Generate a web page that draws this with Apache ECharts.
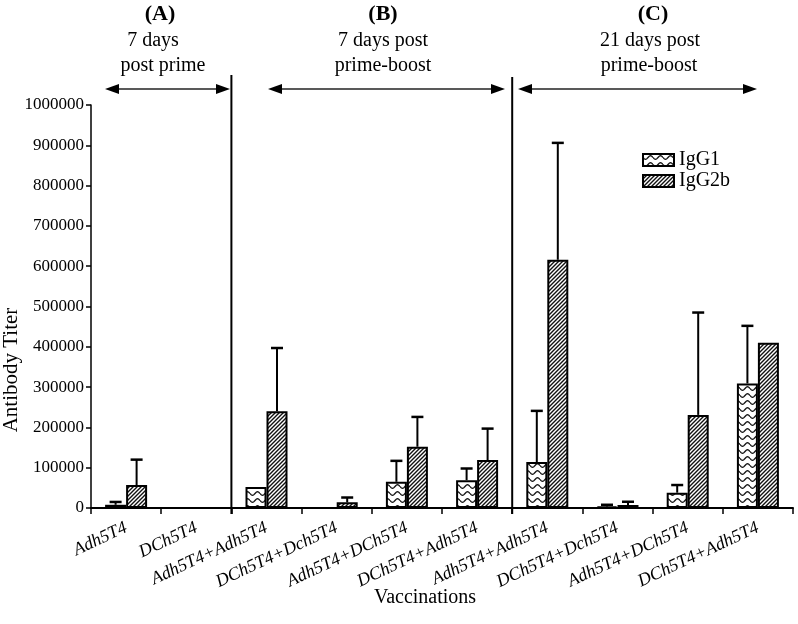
<!DOCTYPE html>
<html><head><meta charset="utf-8">
<script src="https://cdn.jsdelivr.net/npm/echarts@6/dist/echarts.min.js"></script>
<style>html,body{margin:0;padding:0;background:#fff}#c{width:798px;height:624px}</style>
</head><body><div id="c"></div>
<script>
// ---- data ----
const categories = ['Adh5T4','DCh5T4','Adh5T4+Adh5T4','DCh5T4+Dch5T4','Adh5T4+DCh5T4','DCh5T4+Adh5T4','Adh5T4+Adh5T4','DCh5T4+Dch5T4','Adh5T4+DCh5T4','DCh5T4+Adh5T4'];
const igg1 = [8000, 0, 52000, 0, 65000, 69000, 114000, 4000, 38000, 309000];
const igg1ErrTop = [15000, null, null, null, 117000, 98000, 241000, 8000, 57000, 452000];
const igg2b = [57000, 0, 240000, 14000, 152000, 119000, 616000, 7500, 231000, 410000];
const igg2bErrTop = [120000, null, 397000, 26000, 226000, 197000, 906000, 15500, 485000, null];
const yTicks = [0, 100000, 200000, 300000, 400000, 500000, 600000, 700000, 800000, 900000, 1000000];
const seriesNames = ['IgG1', 'IgG2b'];

// ---- patterns ----
function hatch() {
  const c = document.createElement('canvas'); c.width = 4; c.height = 4;
  const g = c.getContext('2d');
  g.fillStyle = '#fff'; g.fillRect(0,0,4,4);
  g.strokeStyle = '#111'; g.lineWidth = 1.4;
  g.beginPath();
  g.moveTo(-1,5); g.lineTo(5,-1);
  g.moveTo(-1,1); g.lineTo(1,-1);
  g.moveTo(3,5); g.lineTo(5,3);
  g.stroke();
  return c;
}
function wave() {
  const c = document.createElement('canvas'); c.width = 10; c.height = 7;
  const g = c.getContext('2d');
  g.fillStyle = '#fff'; g.fillRect(0,0,10,7);
  g.strokeStyle = '#111'; g.lineWidth = 1.3;
  g.beginPath();
  for (let x = 0; x <= 10; x += 0.5) {
    const y = 3.5 + 1.8 * Math.sin(x / 10 * Math.PI * 2);
    if (x === 0) g.moveTo(x, y); else g.lineTo(x, y);
  }
  g.stroke();
  return c;
}
const fills = [{image: wave(), repeat: 'repeat'}, {image: hatch(), repeat: 'repeat'}];
const FONT = 'Liberation Serif';
const BAR_W = 21;

const chart = echarts.init(document.getElementById('c'), null, {renderer: 'canvas'});

function errSeries(vals, tops, offset) {
  const data = vals.map((v, i) => [i, v, tops[i] == null ? v : tops[i]]);
  return {
    type: 'custom', silent: true, z: 5,
    data: data,
    encode: {x: 0, y: [1, 2]},
    renderItem: function (params, api) {
      const i = api.value(0), v = api.value(1), t = api.value(2);
      if (!(t > v)) return null;
      const p0 = api.coord([i, v]), p1 = api.coord([i, t]);
      const x = p0[0] + offset;
      return {type: 'group', children: [
        {type: 'line', shape: {x1: x, y1: p0[1], x2: x, y2: p1[1]}, style: {stroke: '#000', lineWidth: 2}},
        {type: 'line', shape: {x1: x - 6, y1: p1[1], x2: x + 6, y2: p1[1]}, style: {stroke: '#000', lineWidth: 2.5}}
      ]};
    }
  };
}

const option = {
  animation: false,
  backgroundColor: '#fff',
  grid: {left: 91, right: 5, top: 105, bottom: 116, containLabel: false, outerBoundsMode: 'none'},
  legend: {
    data: seriesNames, orient: 'vertical', left: 637, top: 145,
    itemWidth: 31, itemHeight: 12, itemGap: 1, icon: 'rect',
    textStyle: {fontFamily: FONT, fontSize: 20, lineHeight: 18, color: '#000'}
  },
  xAxis: {
    type: 'category', data: categories,
    axisLine: {lineStyle: {color: '#000', width: 2}},
    axisTick: {show: true, length: 6, lineStyle: {color: '#000', width: 1.5}},
    axisLabel: {rotate: 25, margin: 19, fontFamily: FONT, fontStyle: 'italic', fontSize: 18, color: '#000', interval: 0},
    splitLine: {show: false}
  },
  yAxis: {
    type: 'value', min: yTicks[0], max: yTicks[yTicks.length - 1], interval: yTicks[1] - yTicks[0],
    axisLine: {show: true, lineStyle: {color: '#000', width: 1.5}},
    axisTick: {show: true, length: 5, lineStyle: {color: '#000', width: 1.5}},
    axisLabel: {margin: 7, fontFamily: FONT, fontSize: 17, color: '#000', formatter: v => String(v)},
    splitLine: {show: false}
  },
  series: [
    {name: seriesNames[0], type: 'bar', data: igg1, barWidth: BAR_W, barGap: '0%',
     itemStyle: {color: fills[0], borderColor: '#000', borderWidth: 2}},
    {name: seriesNames[1], type: 'bar', data: igg2b, barWidth: BAR_W, barGap: '0%',
     itemStyle: {color: fills[1], borderColor: '#000', borderWidth: 2}},
    errSeries(igg1, igg1ErrTop, -BAR_W / 2),
    errSeries(igg2b, igg2bErrTop, BAR_W / 2)
  ]
};
chart.setOption(option);

// ---- annotations (dividers at category boundaries, arrows, labels) ----
const px = i => chart.convertToPixel({xAxisIndex: 0}, i);
const y0 = chart.convertToPixel({yAxisIndex: 0}, 0);
const d1 = (px(1) + px(2)) / 2, d2 = (px(5) + px(6)) / 2;
const AY = 89;
function arrow(x1, x2) {
  return [
    {type: 'line', shape: {x1: x1 + 6, y1: AY, x2: x2 - 6, y2: AY}, style: {stroke: '#222', lineWidth: 1.5}},
    {type: 'polygon', shape: {points: [[x1, AY], [x1 + 14, AY - 5], [x1 + 14, AY + 5]]}, style: {fill: '#000'}},
    {type: 'polygon', shape: {points: [[x2, AY], [x2 - 14, AY - 5], [x2 - 14, AY + 5]]}, style: {fill: '#000'}}
  ];
}
function txt(x, y, s, bold, size) {
  return {type: 'text', x: x, y: y, style: {text: s, fontFamily: FONT, fontSize: size, fontWeight: bold ? 'bold' : 'normal', fill: '#000', align: 'center', verticalAlign: 'middle'}};
}
chart.setOption({graphic: [
  {type: 'line', shape: {x1: d1, y1: 75, x2: d1, y2: y0 + 6}, style: {stroke: '#000', lineWidth: 2}},
  {type: 'line', shape: {x1: d2, y1: 77, x2: d2, y2: y0 + 6}, style: {stroke: '#000', lineWidth: 2}},
  ...arrow(105, 230), ...arrow(268, 505), ...arrow(518, 757),
  txt(160, 14, '(A)', true, 22), txt(153, 41, '7 days', false, 20), txt(163, 66, 'post prime', false, 20),
  txt(383, 14, '(B)', true, 22), txt(383, 41, '7 days post', false, 20), txt(383, 66, 'prime-boost', false, 20),
  txt(653, 14, '(C)', true, 22), txt(650, 41, '21 days post', false, 20), txt(649, 66, 'prime-boost', false, 20),
  txt(425, 598, 'Vaccinations', false, 20),
  Object.assign(txt(11, 370, 'Antibody Titer', false, 21), {rotation: Math.PI / 2})
]});
</script></body></html>
